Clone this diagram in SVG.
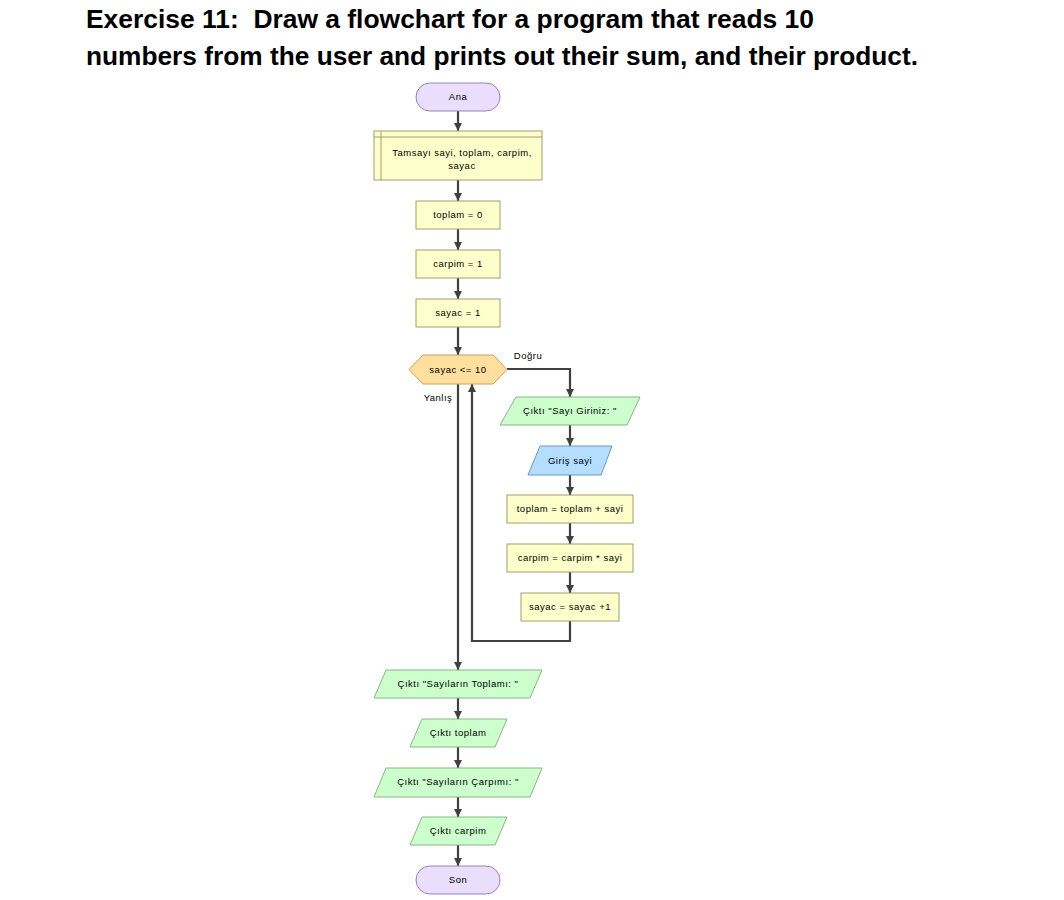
<svg xmlns="http://www.w3.org/2000/svg" width="1064" height="900" viewBox="0 0 1064 900">
<style>
.t{font-family:"Liberation Sans",Arial,sans-serif;font-size:9.5px;fill:#000;text-anchor:middle;letter-spacing:0.5px}
.term{fill:#EBDEFC;stroke:#9A82B8;stroke-width:1}
.proc{fill:#FFFFCC;stroke:#A0A070;stroke-width:1}
.dec{fill:#FFDF9E;stroke:#C8A064;stroke-width:1}
.out{fill:#CCFFCC;stroke:#88B488;stroke-width:1}
.inp{fill:#B4DEFF;stroke:#6C98C0;stroke-width:1}
.c{fill:none;stroke:#404040;stroke-width:2.2}
.title{font-family:"Liberation Sans",Arial,sans-serif;font-weight:bold;font-size:25px;fill:#000;white-space:pre}
</style>
<defs>
<marker id="ah" viewBox="0 0 8 8" refX="8" refY="4" markerWidth="8" markerHeight="8" markerUnits="userSpaceOnUse" orient="auto">
<path d="M0,0 L8,4 L0,8 z" fill="#404040"/>
</marker>
</defs>
<rect width="1064" height="900" fill="#fff"/>
<g id="title">
<text class="title" xml:space="preserve" x="86" y="28" textLength="728" lengthAdjust="spacingAndGlyphs">Exercise 11:  Draw a flowchart for a program that reads 10</text>
<text class="title" x="86" y="65" textLength="832" lengthAdjust="spacingAndGlyphs">numbers from the user and prints out their sum, and their product.</text>
</g>
<g id="connectors">
<path class="c" d="M458,111 V131" marker-end="url(#ah)"/>
<path class="c" d="M458,180 V201" marker-end="url(#ah)"/>
<path class="c" d="M458,229 V250" marker-end="url(#ah)"/>
<path class="c" d="M458,278 V299" marker-end="url(#ah)"/>
<path class="c" d="M458,327 V355" marker-end="url(#ah)"/>
<path class="c" d="M507,369 H570 V397" marker-end="url(#ah)"/>
<path class="c" d="M570,425 V446" marker-end="url(#ah)"/>
<path class="c" d="M570,475 V495" marker-end="url(#ah)"/>
<path class="c" d="M570,523 V544" marker-end="url(#ah)"/>
<path class="c" d="M570,572 V593" marker-end="url(#ah)"/>
<path class="c" d="M570,621 V641 H472 V384" marker-end="url(#ah)"/>
<path class="c" d="M458,384 V670" marker-end="url(#ah)"/>
<path class="c" d="M458,698 V719" marker-end="url(#ah)"/>
<path class="c" d="M458,747 V768" marker-end="url(#ah)"/>
<path class="c" d="M458,797 V817" marker-end="url(#ah)"/>
<path class="c" d="M458,845 V866" marker-end="url(#ah)"/>
<text class="t" x="528" y="359">Doğru</text>
<text class="t" x="438" y="401">Yanlış</text>
</g>
<g id="ana">
<rect class="term" x="416" y="83" width="84" height="28" rx="14"/>
<text class="t" x="458" y="100">Ana</text>
</g>
<g id="decl">
<rect class="proc" x="374" y="131" width="168" height="49"/>
<line x1="374" y1="137" x2="542" y2="137" stroke="#A0A070"/>
<line x1="381" y1="131" x2="381" y2="180" stroke="#A0A070"/>
<text class="t" x="462" y="156">Tamsayı sayi, toplam, carpim,</text>
<text class="t" x="462" y="169">sayac</text>
</g>
<g id="toplam0">
<rect class="proc" x="416" y="201" width="84" height="28"/>
<text class="t" x="458" y="218">toplam = 0</text>
</g>
<g id="carpim1">
<rect class="proc" x="416" y="250" width="84" height="28"/>
<text class="t" x="458" y="267">carpim = 1</text>
</g>
<g id="sayac1">
<rect class="proc" x="416" y="299" width="84" height="28"/>
<text class="t" x="458" y="316">sayac = 1</text>
</g>
<g id="decision">
<polygon class="dec" points="409,369.5 423,355 493,355 507,369.5 493,384 423,384"/>
<text class="t" x="458" y="373">sayac &lt;= 10</text>
</g>
<g id="out1">
<polygon class="out" points="516,397 640,397 627,425 500,425"/>
<text class="t" x="570" y="414">Çıktı "Sayı Giriniz: "</text>
</g>
<g id="inp">
<polygon class="inp" points="540,446 612,446 601,475 528,475"/>
<text class="t" x="570" y="464">Giriş sayi</text>
</g>
<g id="sum">
<rect class="proc" x="507" y="495" width="126" height="28"/>
<text class="t" x="570" y="512">toplam = toplam + sayi</text>
</g>
<g id="prod">
<rect class="proc" x="507" y="544" width="126" height="28"/>
<text class="t" x="570" y="561">carpim = carpim * sayi</text>
</g>
<g id="inc">
<rect class="proc" x="521" y="593" width="98" height="28"/>
<text class="t" x="570" y="610">sayac = sayac +1</text>
</g>
<g id="out2">
<polygon class="out" points="386,670 542,670 530,698 374,698"/>
<text class="t" x="458" y="687">Çıktı "Sayıların Toplamı: "</text>
</g>
<g id="out3">
<polygon class="out" points="422,719 507,719 495,747 410,747"/>
<text class="t" x="458" y="736">Çıktı toplam</text>
</g>
<g id="out4">
<polygon class="out" points="386,768 542,768 530,797 374,797"/>
<text class="t" x="458" y="785">Çıktı "Sayıların Çarpımı: "</text>
</g>
<g id="out5">
<polygon class="out" points="422,817 507,817 495,845 410,845"/>
<text class="t" x="458" y="834">Çıktı carpim</text>
</g>
<g id="son">
<rect class="term" x="416" y="866" width="84" height="28" rx="14"/>
<text class="t" x="458" y="883">Son</text>
</g>
</svg>
